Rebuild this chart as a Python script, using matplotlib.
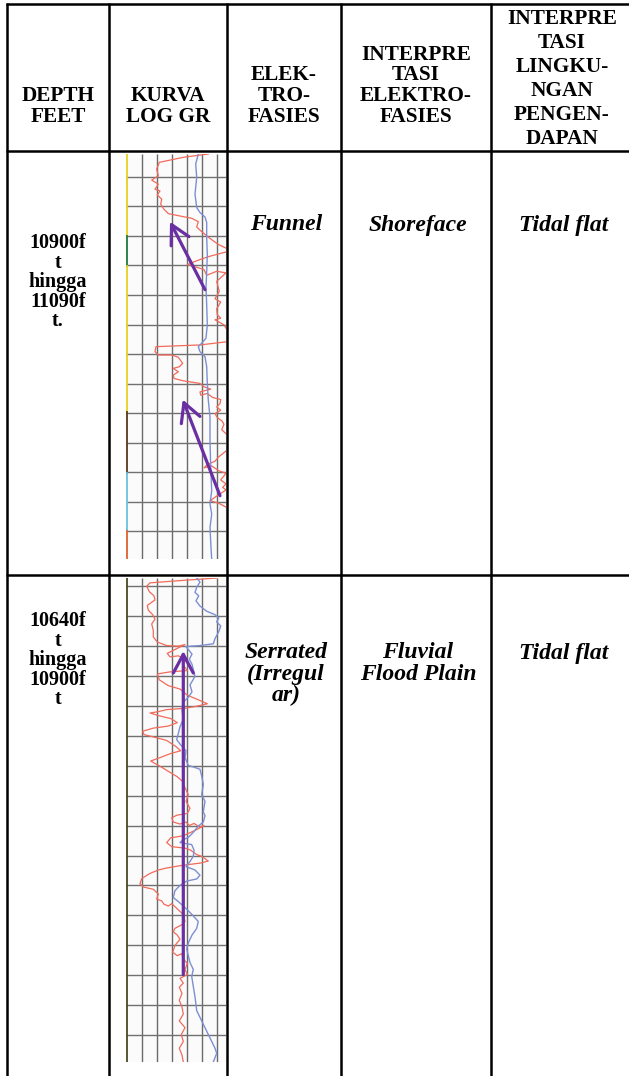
import numpy as np
import matplotlib.pyplot as plt

# table layout (pixels)
W, H = 629, 1076
col_x = [7, 109, 227, 341, 491]
row_y = [4, 151, 575]

headers = [["DEPTH", "FEET"], ["KURVA", "LOG GR"], ["ELEK-", "TRO-", "FASIES"],
           ["INTERPRE", "TASI", "ELEKTRO-", "FASIES"],
           ["INTERPRE", "TASI", "LINGKU-", "NGAN", "PENGEN-", "DAPAN"]]

depth_text = [["10900f", "t", "hingga", "11090f", "t."], ["10640f", "t", "hingga", "10900f", "t"]]
facies = [["Funnel"], ["Serrated", "(Irregul", "ar)"]]
interp_facies = [["Shoreface"], ["Fluvial", "Flood Plain"]]
interp_env = [["Tidal flat"], ["Tidal flat"]]

# ---- log curve 1 (10900 - 11090 ft), track units: x 0-100, depth 0-403
gr1_red_d = [0, 3.3, 8.3, 15, 21.7, 26, 30, 35, 36.7, 40.7, 45, 50, 55, 59.3, 61.7, 64, 67.3,
             72.7, 77.3, 84, 90, 94, 97.3, 101.7, 105, 110, 112.7, 115, 120.7, 116.7, 118.3,
             126.7, 136.7, 144, 147.3, 154, 160, 163.3, 165, 170, 176.7, 186.7, 190, 191.7,
             196.7, 200, 200, 202.3, 208.3, 211.7, 213.3, 216.7, 220, 223.3, 225.7, 228.3,
             231.7, 234, 236.7, 240, 238.3, 242.3, 244.3, 248.3, 251.7, 255, 258.3, 262.3,
             265.7, 269, 274.3, 278.3, 285, 295, 301.7, 305.7, 309, 312.3, 310.3, 315, 317.7,
             324.3, 328.3, 331.7, 334.3, 340, 345, 347.3, 351.7, 361.7, 403]
gr1_red_v = [82.3, 57.3, 33.3, 30.7, 32.3, 25.7, 32.3, 29, 34, 31.3, 35.7, 34.7, 38, 42.3, 54,
             65.7, 72.3, 70.7, 75.7, 84, 92.3, 100.7, 100.7, 84, 74, 61.3, 70.7, 78, 80.7, 90.7,
             100, 90.7, 93.3, 89, 94.7, 90.7, 91.3, 94.7, 89, 98, 102, 102, 74, 30, 29, 32.3,
             45.7, 52.3, 56.7, 53.3, 47.3, 52.3, 47.3, 48, 57.3, 74, 78, 84.7, 74, 74.7, 81.3,
             86.7, 94.7, 94, 90.7, 94.7, 89, 91.3, 96, 98, 95.7, 100, 104, 100.7, 92.3, 89,
             81.3, 78, 85.7, 92.3, 100, 94.7, 100, 96.7, 100, 91.3, 84, 92.3, 100.7, 105.7, 105.7]
gr1_blue_d = [0, 10, 23.3, 40, 53.3, 58.3, 62.7, 68.3, 83.3, 100, 116.7, 133.3, 150, 170, 183.3,
              188.3, 191.7, 196.7, 201.7, 211.7, 228.3, 245, 261.7, 285, 311.7, 335, 348.3,
              358.3, 371.7, 391.7, 403]
gr1_blue_v = [72.3, 69.7, 70.7, 69, 70.7, 74, 79, 80.7, 80.7, 81.3, 80.7, 80, 80.7, 81.3, 80,
              75.7, 72.3, 74, 79, 80.7, 81.3, 82.3, 84, 84, 84.7, 85.7, 84, 85.7, 84, 85, 85.7]
arrows1 = [((79, 135), (44, 67.3)), ((94, 340), (56.7, 244.3))]   # (tail, head)
edge1_bounds = [0, 82, 111, 257, 317, 375, 403]
edge1_colors = ["#e8d020", "#1f7a3a", "#e8d020", "#5a3a1a", "#6cc0e0", "#e0602a"]

# ---- log curve 2 (10640 - 10900 ft), depth 0-471
gr2_red_d = [0, 2.3, 4.7, 8, 13.3, 17.3, 21.3, 26.7, 31.3, 35.7, 40, 44.7, 50.7, 57.3, 62.3,
             65.7, 66.3, 64.7, 70, 73.3, 76.7, 75.7, 79, 84, 90, 91.3, 93.3, 99, 104.7, 108,
             114, 118, 122.3, 124.7, 126.7, 128, 130, 131.3, 134, 136.7, 140.7, 144, 146, 149,
             152.3, 154.7, 158, 164, 168, 170.7, 174.7, 178, 182.7, 188, 193.3, 198, 204,
             210.7, 217.3, 224, 229, 230.7, 233.3, 237.3, 239.3, 237.3, 240.7, 238.7, 242.3,
             240.7, 244.7, 250.7, 252.7, 257.3, 261.3, 262.7, 264.7, 269, 270.7, 275.3, 277.3,
             279.3, 282, 284, 287.3, 292.3, 297.3, 300.7, 302.7, 307.3, 312.3, 314, 317.3, 319,
             316.7, 322.7, 327.3, 334, 337.3, 340.7, 344, 347.3, 351.3, 357.3, 364, 367.3,
             365.3, 370.7, 374.7, 380.7, 385.7, 389.3, 394, 398, 404, 410.7, 417.3, 424, 430.7,
             437.3, 444, 450.7, 457.3, 464, 470.7]
gr2_red_v = [90.7, 57.3, 24, 20.7, 23.3, 28, 29, 21.3, 22.3, 26.7, 29, 25.7, 27.3, 27.3, 31.3,
             40.7, 52.3, 59, 48, 41.3, 44, 52.3, 60.7, 56.7, 61.3, 44, 31.3, 33.3, 42.3, 54,
             61.3, 71.3, 81.3, 70.7, 59, 40.7, 32.3, 24, 33.3, 44.7, 51.3, 42.3, 27.3, 16.7,
             18, 28, 40.7, 50, 54.7, 44.7, 34, 24.7, 33.3, 42.3, 51.3, 56.7, 59, 62.3, 60, 64,
             61.3, 50.7, 45.7, 47.3, 54, 60, 63.3, 68, 74, 78, 70.7, 57.3, 44.7, 40.7, 45.7,
             59, 64.7, 70.7, 75.7, 82.3, 74, 57.3, 40.7, 32.3, 24, 15.7, 14, 18, 27.3, 32.3,
             30.7, 35.7, 38, 42.3, 45.7, 52.3, 57.3, 59, 55.7, 49, 47.3, 51.3, 54, 49, 46.7,
             51.3, 55.7, 57.3, 61.3, 59, 61.3, 54, 57.3, 53.3, 56, 53.3, 56, 57.3, 53.3, 59,
             55.3, 57.3, 53.3, 56, 57.3]
gr2_blue_d = [0, 4, 9, 14, 17.3, 22.3, 27.3, 32.3, 35.7, 39, 42.7, 46.7, 52.3, 59, 64, 65.7,
              66.7, 70, 74, 79, 84, 95.7, 104, 110.7, 116, 120.7, 128, 137.3, 144.7, 157.3,
              162.3, 168, 174.7, 182.3, 184, 186, 192.7, 200.7, 210.7, 217.3, 227.3, 231.3,
              237.3, 241.3, 247.3, 252.3, 254.7, 257.3, 259.3, 264.7, 270.7, 275.7, 280.7, 284,
              289, 292.7, 294.7, 299, 304, 310.7, 314.7, 319, 322.7, 327.3, 334, 340.7, 347.3,
              354, 360.7, 367.3, 374, 380.7, 387.3, 397.3, 407.3, 420.7, 434, 447.3, 457.3,
              462.3, 470.7]
gr2_blue_v = [70.7, 74, 70.7, 69, 72.7, 70, 74, 80.7, 89, 92.7, 90.7, 94.7, 92.7, 89, 87.3, 74,
              60, 62.7, 66, 63.3, 66, 69, 64, 66, 62.3, 57.3, 56, 57.3, 54, 50.7, 54.7, 60, 59,
              62.3, 68, 74, 75.7, 77.3, 75.7, 79, 77.3, 79, 77.3, 72.3, 67.3, 62.3, 56.7, 54,
              65.7, 68, 67.3, 64, 60, 69, 74, 70.7, 60.7, 54, 49, 47.3, 52.3, 57.3, 61.3, 66,
              72.3, 70.7, 66, 62.7, 60.7, 62.3, 64, 67.3, 65.7, 67.3, 69, 70.7, 77.3, 84, 89,
              90.7, 87.3]
arrows2 = [((57.3, 385.7), (57.3, 71))]
edge2_bounds = [0, 471]
edge2_colors = ["#4a4a22"]

tracks = [
    dict(box=(126, 154, 226, 559), red=(gr1_red_d, gr1_red_v), blue=(gr1_blue_d, gr1_blue_v),
         arrows=arrows1, edge=(edge1_bounds, edge1_colors), hgrid=(22.7, 29.4)),
    dict(box=(126, 578, 226, 1062), red=(gr2_red_d, gr2_red_v), blue=(gr2_blue_d, gr2_blue_v),
         arrows=arrows2, edge=(edge2_bounds, edge2_colors), hgrid=(8, 29.1)),
]

plt.rcParams['font.family'] = ['Liberation Serif', 'DejaVu Serif']

fig = plt.figure(figsize=(W / 100, H / 100), dpi=100)
ax = fig.add_axes([0, 0, 1, 1])
ax.set_xlim(0, W)
ax.set_ylim(H, 0)
ax.axis('off')

# table frame
lw = 1.8
for x in col_x:
    ax.plot([x, x], [row_y[0] - 1, H], color='black', lw=lw, solid_capstyle='butt')
for y in row_y:
    ax.plot([col_x[0] - 1, W], [y, y], color='black', lw=lw, solid_capstyle='butt')

centers = [(col_x[i] + col_x[i + 1]) / 2 for i in range(4)] + [(col_x[4] + W) / 2 + 2]


def put_lines(cx, y0, step, lines, **kw):
    for i, s in enumerate(lines):
        ax.text(cx, y0 + i * step, s, ha='center', va='center', **kw)


# header: columns 1-4 end at the same line, column 5 fills the cell
hdr_kw = dict(fontsize=15.3, fontweight='bold')
for c in range(4):
    n = len(headers[c])
    put_lines(centers[c], 117 - (n - 1) * 20.8, 20.8, headers[c], **hdr_kw)
put_lines(centers[4], 19, 24.0, headers[4], **hdr_kw)

# body text
body_top = [225, 653]
depth_top = [243, 621]
body_kw = dict(fontsize=17, fontweight='bold', fontstyle='italic')
for r in range(2):
    put_lines(centers[0], depth_top[r], 19.6, depth_text[r], fontsize=14.5, fontweight='bold')
    put_lines(centers[2] + 2, body_top[r], 21, facies[r], **body_kw)
    put_lines(centers[3] + 2, body_top[r], 21, interp_facies[r], **body_kw)
    put_lines(centers[4] + 2, body_top[r], 21, interp_env[r], **body_kw)

# log tracks
for tr in tracks:
    l, t, r, b = tr['box']
    tax = fig.add_axes([l / W, 1 - b / H, (r - l) / W, (b - t) / H])
    dmax = tr['red'][0][-1]
    tax.set_xlim(0, 100)
    tax.set_ylim(dmax, 0)
    tax.set_facecolor('#fbfbfb')
    for s in tax.spines.values():
        s.set_visible(False)
    tax.set_xticks([])
    tax.set_yticks([])
    tax.vlines(np.arange(15.7, 100, 15), 0, dmax, color='#6a6a6a', lw=1.0)
    h0, hs = tr['hgrid']
    tax.hlines(np.arange(h0, dmax, hs), 0, 100, color='#707070', lw=1.0)
    bounds, cols = tr['edge']
    for i, c in enumerate(cols):
        tax.plot([0.6, 0.6], [bounds[i], bounds[i + 1]], color=c, lw=1.3)
    tax.plot(tr['red'][1], tr['red'][0], color='#f26a5a', lw=0.9)
    tax.plot(tr['blue'][1], tr['blue'][0], color='#7d8fd4', lw=1.0)
    for tail, head in tr['arrows']:
        tax.annotate('', xy=head, xytext=tail,
                     arrowprops=dict(arrowstyle='->,head_length=0.67,head_width=0.36',
                                     color='#6a2fa2', lw=2.3, shrinkA=0, shrinkB=0,
                                     mutation_scale=20))

fig.savefig('out.png', dpi=100)
